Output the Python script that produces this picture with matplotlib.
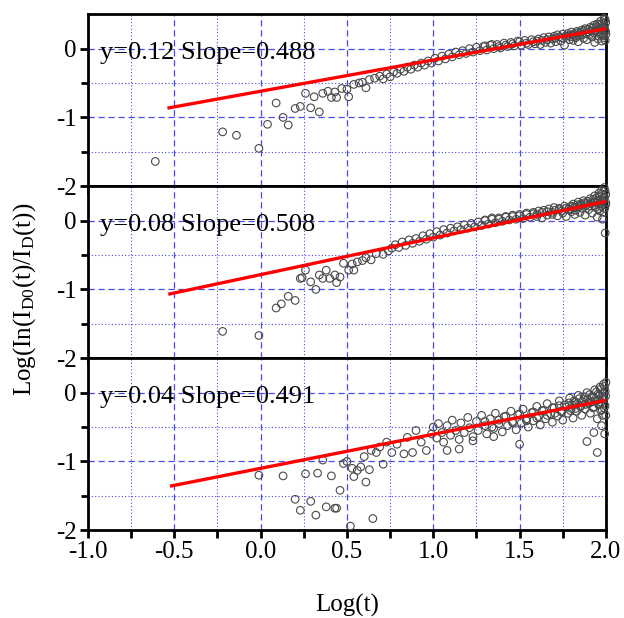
import matplotlib
matplotlib.use("Agg")
import matplotlib.pyplot as plt
from matplotlib.ticker import FixedLocator

plt.rcParams['font.family'] = ['Liberation Serif', 'DejaVu Serif']
plt.rcParams['mathtext.fontset'] = 'custom'
plt.rcParams['mathtext.rm'] = 'Liberation Serif'
plt.rcParams['mathtext.it'] = 'Liberation Serif:italic'

# ---------------- data ----------------
labels = ["y=0.12 Slope=0.488", "y=0.08 Slope=0.508", "y=0.04 Slope=0.491"]
xtick_vals = [-1.0, -0.5, 0.0, 0.5, 1.0, 1.5, 2.0]
xtick_labels = ['-1.0', '-0.5', '0.0', '0.5', '1.0', '1.5', '2.0']
xminor_vals = [-0.75, -0.25, 0.25, 0.75, 1.25, 1.75]
ytick_vals = [-2, -1, 0]
ytick_labels = ['-2', '-1', '0']
yminor_vals = [-1.5, -0.5]

# fit lines (start/end points)
fit_x = [[-0.54, 2.0], [-0.535, 2.0], [-0.525, 2.0]]
fit_y = [[-0.865, 0.29], [-1.07, 0.28], [-1.36, -0.11]]

# panel 1
x1 = [-0.61, -0.22, -0.14, -0.01, 0.04, 0.09, 0.13, 0.16, 0.20, 0.23, 0.26, 0.29, 0.31, 0.34,
      0.36, 0.39, 0.41, 0.43, 0.44, 0.47, 0.50, 0.51, 0.54, 0.57, 0.59, 0.61, 0.63, 0.66,
      0.69, 0.71, 0.73, 0.75, 0.77, 0.79, 0.81, 0.83, 0.85, 0.87, 0.89, 0.91, 0.93, 0.95,
      0.97, 0.99, 1.01, 1.03, 1.05, 1.07, 1.09, 1.11, 1.13, 1.15, 1.17, 1.19, 1.21, 1.23,
      1.25, 1.27, 1.29, 1.31, 1.33, 1.35, 1.37, 1.39, 1.41, 1.43, 1.45, 1.47, 1.49, 1.51,
      1.53, 1.55, 1.57, 1.59, 1.61, 1.62, 1.64, 1.65, 1.67, 1.68, 1.70, 1.71, 1.72, 1.74,
      1.75, 1.76, 1.78, 1.79, 1.80, 1.81, 1.82, 1.83, 1.84, 1.85, 1.86, 1.87, 1.88, 1.89,
      1.90, 1.91, 1.92, 1.93, 1.935, 1.94, 1.95, 1.955, 1.96, 1.965, 1.97, 1.975, 1.98,
      1.985, 1.99, 1.993, 1.996, 1.999, 2.0,
      1.30, 1.34, 1.38, 1.42, 1.46, 1.50, 1.54, 1.58, 1.60, 1.63, 1.66, 1.69, 1.705, 1.73,
      1.745, 1.77, 1.785, 1.795, 1.805, 1.815, 1.825, 1.835, 1.845, 1.855, 1.865, 1.875,
      1.885, 1.895, 1.905, 1.915, 1.925, 1.93, 1.945, 1.952, 1.958, 1.962, 1.968, 1.972,
      1.978, 1.982, 1.988, 1.992, 1.995, 1.998]
y1 = [-1.64, -1.21, -1.26, -1.45, -1.10, -0.79, -1.00, -1.11, -0.87, -0.84, -0.65, -0.86, -0.70, -0.92,
      -0.65, -0.62, -0.71, -0.63, -0.71, -0.58, -0.59, -0.70, -0.52, -0.50, -0.49, -0.57, -0.45, -0.43,
      -0.40, -0.44, -0.37, -0.41, -0.34, -0.36, -0.30, -0.33, -0.27, -0.30, -0.24, -0.27, -0.21, -0.24,
      -0.18, -0.21, -0.14, -0.18, -0.11, -0.15, -0.08, -0.12, -0.05, -0.09, -0.03, -0.07, 0.00, -0.05,
      0.02, -0.03, 0.03, -0.02, 0.05, 0.00, 0.06, 0.01, 0.08, 0.03, 0.09, 0.04, 0.11, 0.05,
      0.12, 0.06, 0.13, 0.07, 0.14, 0.06, 0.16, 0.09, 0.17, 0.08, 0.18, 0.10, 0.20, 0.11,
      0.21, 0.05, 0.22, 0.13, 0.24, 0.12, 0.18, 0.25, 0.10, 0.22, 0.27, 0.15, 0.29, 0.13,
      0.24, 0.31, 0.17, 0.34, 0.09, 0.26, 0.36, 0.14, 0.30, 0.22, 0.40, 0.11, 0.33,
      0.19, 0.44, 0.27, 0.12, 0.38, 0.21,
      0.04, 0.06, 0.03, 0.05, 0.07, 0.10, 0.08, 0.10, 0.11, 0.12, 0.13, 0.14, 0.15, 0.17,
      0.16, 0.18, 0.19, 0.17, 0.20, 0.21, 0.16, 0.23, 0.19, 0.24, 0.20, 0.26,
      0.22, 0.28, 0.20, 0.26, 0.30, 0.23, 0.32, 0.25, 0.18, 0.35, 0.28, 0.20,
      0.37, 0.30, 0.16, 0.33, 0.42, 0.25]

# panel 2
x2 = [-0.22, -0.01, 0.09, 0.12, 0.16, 0.20, 0.23, 0.24, 0.26, 0.29, 0.32, 0.34, 0.36, 0.38,
      0.40, 0.43, 0.44, 0.46, 0.48, 0.51, 0.53, 0.54, 0.56, 0.59, 0.61, 0.64, 0.67, 0.71, 0.74,
      0.76, 0.78, 0.80, 0.82, 0.84, 0.86, 0.88, 0.90, 0.92, 0.94, 0.96, 0.98, 1.00, 1.02,
      1.04, 1.06, 1.08, 1.10, 1.12, 1.14, 1.16, 1.18, 1.20, 1.22, 1.24, 1.26, 1.28, 1.30,
      1.32, 1.34, 1.36, 1.38, 1.40, 1.42, 1.44, 1.46, 1.48, 1.50, 1.52, 1.54, 1.56, 1.58,
      1.60, 1.61, 1.63, 1.64, 1.66, 1.67, 1.69, 1.70, 1.72, 1.73, 1.75, 1.76, 1.77, 1.79,
      1.80, 1.81, 1.82, 1.83, 1.84, 1.85, 1.86, 1.87, 1.88, 1.89, 1.90, 1.91, 1.92, 1.93,
      1.935, 1.94, 1.95, 1.955, 1.96, 1.965, 1.97, 1.975, 1.98, 1.985, 1.99, 1.993, 1.996,
      1.999, 2.0,
      1.30, 1.34, 1.38, 1.42, 1.46, 1.50, 1.54, 1.58, 1.60, 1.63, 1.66, 1.69, 1.705, 1.73,
      1.745, 1.77, 1.785, 1.795, 1.805, 1.815, 1.825, 1.835, 1.845, 1.855, 1.865, 1.875,
      1.885, 1.895, 1.905, 1.915, 1.925, 1.93, 1.945, 1.952, 1.958, 1.962, 1.968, 1.972,
      1.978, 1.982, 1.988, 1.992, 1.995, 1.998]
y2 = [-1.61, -1.67, -1.27, -1.21, -1.10, -1.16, -0.84, -0.83, -0.72, -0.89, -1.00, -0.79, -0.84, -0.72,
      -0.84, -0.79, -0.90, -0.82, -0.62, -0.72, -0.63, -0.72, -0.60, -0.58, -0.54, -0.57, -0.48, -0.49, -0.44,
      -0.40, -0.35, -0.39, -0.31, -0.36, -0.28, -0.33, -0.26, -0.30, -0.22, -0.27, -0.19, -0.24, -0.16,
      -0.21, -0.13, -0.18, -0.11, -0.15, -0.09, -0.13, -0.06, -0.11, -0.04, -0.09, -0.02, -0.07, 0.00,
      -0.05, 0.02, -0.03, 0.04, -0.01, 0.06, 0.01, 0.08, 0.02, 0.09, 0.03, 0.11, 0.05, 0.12,
      0.06, 0.14, 0.04, 0.15, 0.08, 0.17, 0.09, 0.19, 0.07, 0.18, 0.11, 0.21, 0.06, 0.20,
      0.13, 0.24, 0.09, 0.19, 0.27, 0.12, 0.22, 0.29, 0.08, 0.25, 0.16, 0.32, 0.11, 0.27,
      0.36, 0.19, 0.05, 0.30, 0.40, 0.14, 0.25, 0.44, 0.02, 0.33, 0.48, 0.18, -0.18,
      0.38, 0.26,
      0.01, 0.04, 0.02, 0.05, 0.06, 0.07, 0.09, 0.10, 0.09, 0.12, 0.13, 0.12, 0.15, 0.16,
      0.14, 0.18, 0.17, 0.16, 0.21, 0.19, 0.15, 0.23, 0.20, 0.24, 0.18, 0.26,
      0.22, 0.28, 0.21, 0.25, 0.31, 0.22, 0.33, 0.26, 0.17, 0.36, 0.29, 0.21,
      0.39, 0.28, 0.12, 0.34, 0.43, 0.23]

# panel 3
x3 = [-0.01, 0.13, 0.26, 0.33, 0.20, 0.29, 0.23, 0.32, 0.36, 0.41, 0.38, 0.43, 0.44, 0.46,
      0.48, 0.50, 0.52, 0.53, 0.54, 0.56, 0.58, 0.60, 0.61, 0.63, 0.65, 0.64, 0.67, 0.71,
      0.69, 0.73, 0.76, 0.79, 0.83, 0.85, 0.88, 0.90, 0.93, 0.96, 0.99,
      1.00, 1.02, 1.03, 1.05, 1.06, 1.08, 1.10, 1.11, 1.13, 1.15, 1.16, 1.18, 1.20, 1.21,
      1.23, 1.25, 1.26, 1.28, 1.30, 1.31, 1.33, 1.35, 1.36, 1.38, 1.40, 1.41, 1.43, 1.45,
      1.46, 1.48, 1.49, 1.51, 1.52, 1.54, 1.55, 1.57, 1.58, 1.60, 1.61, 1.62, 1.64, 1.65,
      1.66, 1.68, 1.69, 1.70, 1.72, 1.73, 1.74, 1.75, 1.76, 1.78, 1.79, 1.80, 1.81, 1.82,
      1.83, 1.84, 1.85, 1.86, 1.87, 1.88, 1.89, 1.90, 1.91, 1.92, 1.93, 1.935, 1.94, 1.95,
      1.955, 1.96, 1.965, 1.97, 1.975, 1.98, 1.985, 1.99, 1.993, 1.996, 1.999, 2.0,
      1.08, 1.15, 1.23, 1.35, 1.50, 1.89, 1.93, 1.95, 1.98,
      1.30, 1.34, 1.38, 1.42, 1.46, 1.50, 1.54, 1.58, 1.60, 1.63, 1.66, 1.69, 1.705, 1.73,
      1.745, 1.77, 1.785, 1.795, 1.805, 1.815, 1.825, 1.835, 1.845, 1.855, 1.865, 1.875,
      1.885, 1.895, 1.905, 1.915, 1.925, 1.93, 1.945, 1.952, 1.958, 1.962, 1.968, 1.972,
      1.978, 1.982, 1.988, 1.992, 1.995, 1.998]
y3 = [-1.20, -1.21, -1.18, -1.17, -1.55, -1.58, -1.71, -1.78, -0.98, -1.21, -1.66, -1.68, -1.68, -1.42,
      -1.03, -1.00, -1.94, -1.10, -1.22, -1.13, -1.08, -0.93, -1.30, -1.12, -1.83, -0.84, -0.87, -1.04,
      -0.79, -0.72, -0.87, -0.75, -0.89, -0.65, -0.87, -0.55, -0.72, -0.84, -0.60,
      -0.50, -0.66, -0.45, -0.58, -0.72, -0.48, -0.62, -0.40, -0.55, -0.68, -0.44, -0.58, -0.36, -0.51,
      -0.64, -0.42, -0.55, -0.33, -0.48, -0.60, -0.38, -0.52, -0.30, -0.45, -0.57, -0.35, -0.48, -0.27,
      -0.42, -0.54, -0.32, -0.44, -0.24, -0.38, -0.50, -0.29, -0.41, -0.20, -0.35, -0.47, -0.26, -0.38,
      -0.16, -0.31, -0.43, -0.22, -0.34, -0.12, -0.27, -0.40, -0.18, -0.30, -0.08, -0.23, -0.37, -0.14,
      -0.27, -0.04, -0.20, -0.33, -0.10, -0.24, 0.00, -0.16, -0.30, -0.06, -0.21, 0.04, -0.12, -0.38,
      -0.02, -0.17, 0.08, -0.26, -0.48, -0.08, 0.12, -0.22, -0.60, 0.02, -0.33, 0.15,
      -0.84, -0.82, -0.70, -0.64, -0.75, -0.71, -0.58, -0.87, -0.33,
      -0.42, -0.50, -0.40, -0.34, -0.44, -0.31, -0.41, -0.28, -0.37, -0.26, -0.33, -0.22, -0.30, -0.19,
      -0.28, -0.21, -0.15, -0.26, -0.18, -0.12, -0.23, -0.16, -0.09, -0.20, -0.13, -0.06,
      -0.17, -0.10, -0.03, -0.14, -0.22, -0.07, 0.01, -0.11, -0.18, -0.04, 0.05, -0.14,
      -0.25, -0.01, -0.09, 0.09, -0.19, -0.05]

xs = [x1, x2, x3]
ys = [y1, y2, y3]

# ---------------- figure ----------------
fig = plt.figure(figsize=(6.24, 6.18), dpi=100)
gs = fig.add_gridspec(3, 1, left=0.141, right=0.971, top=0.977, bottom=0.142, hspace=0)
grid_color = '#4a4ae6'

for i in range(3):
    ax = fig.add_subplot(gs[i])
    ax.set_xlim(-1.0, 2.0)
    ax.set_ylim(-2.0, 0.5)
    ax.xaxis.set_major_locator(FixedLocator(xtick_vals))
    ax.xaxis.set_minor_locator(FixedLocator(xminor_vals))
    ax.yaxis.set_major_locator(FixedLocator(ytick_vals))
    ax.yaxis.set_minor_locator(FixedLocator(yminor_vals))
    ax.grid(which='major', color=grid_color, linestyle=(0, (5, 3)), linewidth=0.9, zorder=0)
    ax.grid(which='minor', color=grid_color, linestyle=(0, (1, 2)), linewidth=0.8, zorder=0)
    ax.set_axisbelow(True)
    for s in ax.spines.values():
        s.set_linewidth(2.0)
    ax.tick_params(which='both', direction='out', width=2.0, labelsize=18, pad=2)
    ax.tick_params(which='major', length=6)
    ax.tick_params(which='minor', length=5)
    ax.tick_params(axis='x', which='both', length=6)
    ax.scatter(xs[i], ys[i], s=30, facecolors='none', edgecolors='#4a4a4a',
               linewidths=0.8, zorder=3, clip_on=False)
    ax.plot(fit_x[i], fit_y[i], color='#ff0000', linewidth=2.4, zorder=4, solid_capstyle='butt')
    ax.text(-0.93, -0.06, labels[i], fontsize=19, va='center', ha='left', zorder=5)
    ax.set_yticklabels(ytick_labels)
    if i < 2:
        ax.tick_params(axis='x', labelbottom=False)
    else:
        ax.set_xticklabels(xtick_labels)
        ax.set_xlabel('Log(t)', fontsize=18, labelpad=22)

fig.text(0.04, 0.515, r'Log(In(I$_{\mathrm{D0}}$(t)/I$_{\mathrm{D}}$(t))', rotation=90,
         fontsize=18, ha='center', va='center')

fig.savefig('out.png', dpi=100)
